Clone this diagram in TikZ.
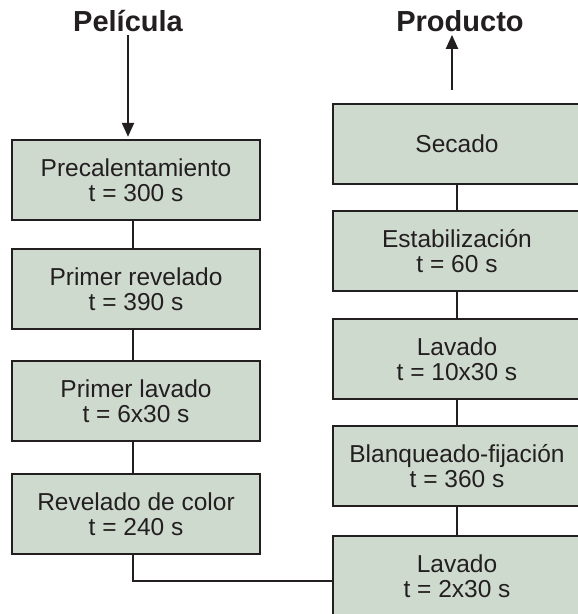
\documentclass[tikz,border=0pt]{standalone}
\usepackage{fontspec}
\setmainfont{Liberation Sans}
\usetikzlibrary{arrows.meta}
\definecolor{G1}{RGB}{207,218,207}
\definecolor{K1}{RGB}{35,31,32}
\tikzstyle{etapa}=[draw=K1, line width=2.4pt, fill=G1, text=K1, minimum width=248pt, minimum height=80pt, align=center, inner sep=0, font=\fontsize{24.5}{24.5}\selectfont]
\tikzstyle{titulo}=[text=K1, inner sep=0, font=\fontsize{29}{30}\selectfont\bfseries]
\tikzstyle{linea}=[draw=K1, line width=2.2pt]
\tikzstyle{flecha}=[linea, -{Triangle[length=14pt,width=12pt]}]

\begin{document}
\begin{tikzpicture}[x=1pt,y=-1pt]
  \useasboundingbox (0,0) rectangle (578,614);
  \clip (0,0) rectangle (578,614);
  \node[titulo] (pel) at (128,21) {Película};
  \node[titulo] (pro) at (460,21) {Producto};
  \node[etapa] (b1) at (136,180) {Precalentamiento\\t = 300 s};
  \node[etapa] (b2) at (136,289) {Primer revelado\\t = 390 s};
  \node[etapa] (b3) at (136,401) {Primer lavado\\t = 6x30 s};
  \node[etapa] (b4) at (136,514) {Revelado de color\\t = 240 s};
  \node[etapa] (r1) at (457,144) {Secado};
  \node[etapa] (r2) at (457,251) {Estabilización\\t = 60 s};
  \node[etapa] (r3) at (457,359) {Lavado\\t = 10x30 s};
  \node[etapa] (r4) at (457,466) {Blanqueado-fijación\\t = 360 s};
  \node[etapa] (r5) at (457,576) {Lavado\\t = 2x30 s};
  \coordinate (salida) at (452,90);
  \draw[flecha, shorten <=3pt, shorten >=2pt] (pel.south) -- (pel.south |- b1.north);
  \draw[flecha, shorten >=3pt] (salida) -- (salida |- pro.south);
  \draw[linea] ([xshift=-3pt]b1.south) -- ([xshift=-3pt]b2.north);
  \draw[linea] ([xshift=-3pt]b2.south) -- ([xshift=-3pt]b3.north);
  \draw[linea] ([xshift=-3pt]b3.south) -- ([xshift=-3pt]b4.north);
  \draw[linea] (r1.south) -- (r2.north); \draw[linea] (r2.south) -- (r3.north);
  \draw[linea] (r3.south) -- (r4.north); \draw[linea] (r4.south) -- (r5.north);
  \draw[linea] ([xshift=-3pt]b4.south) |- ([yshift=-5pt]r5.west);
\end{tikzpicture}
\end{document}
